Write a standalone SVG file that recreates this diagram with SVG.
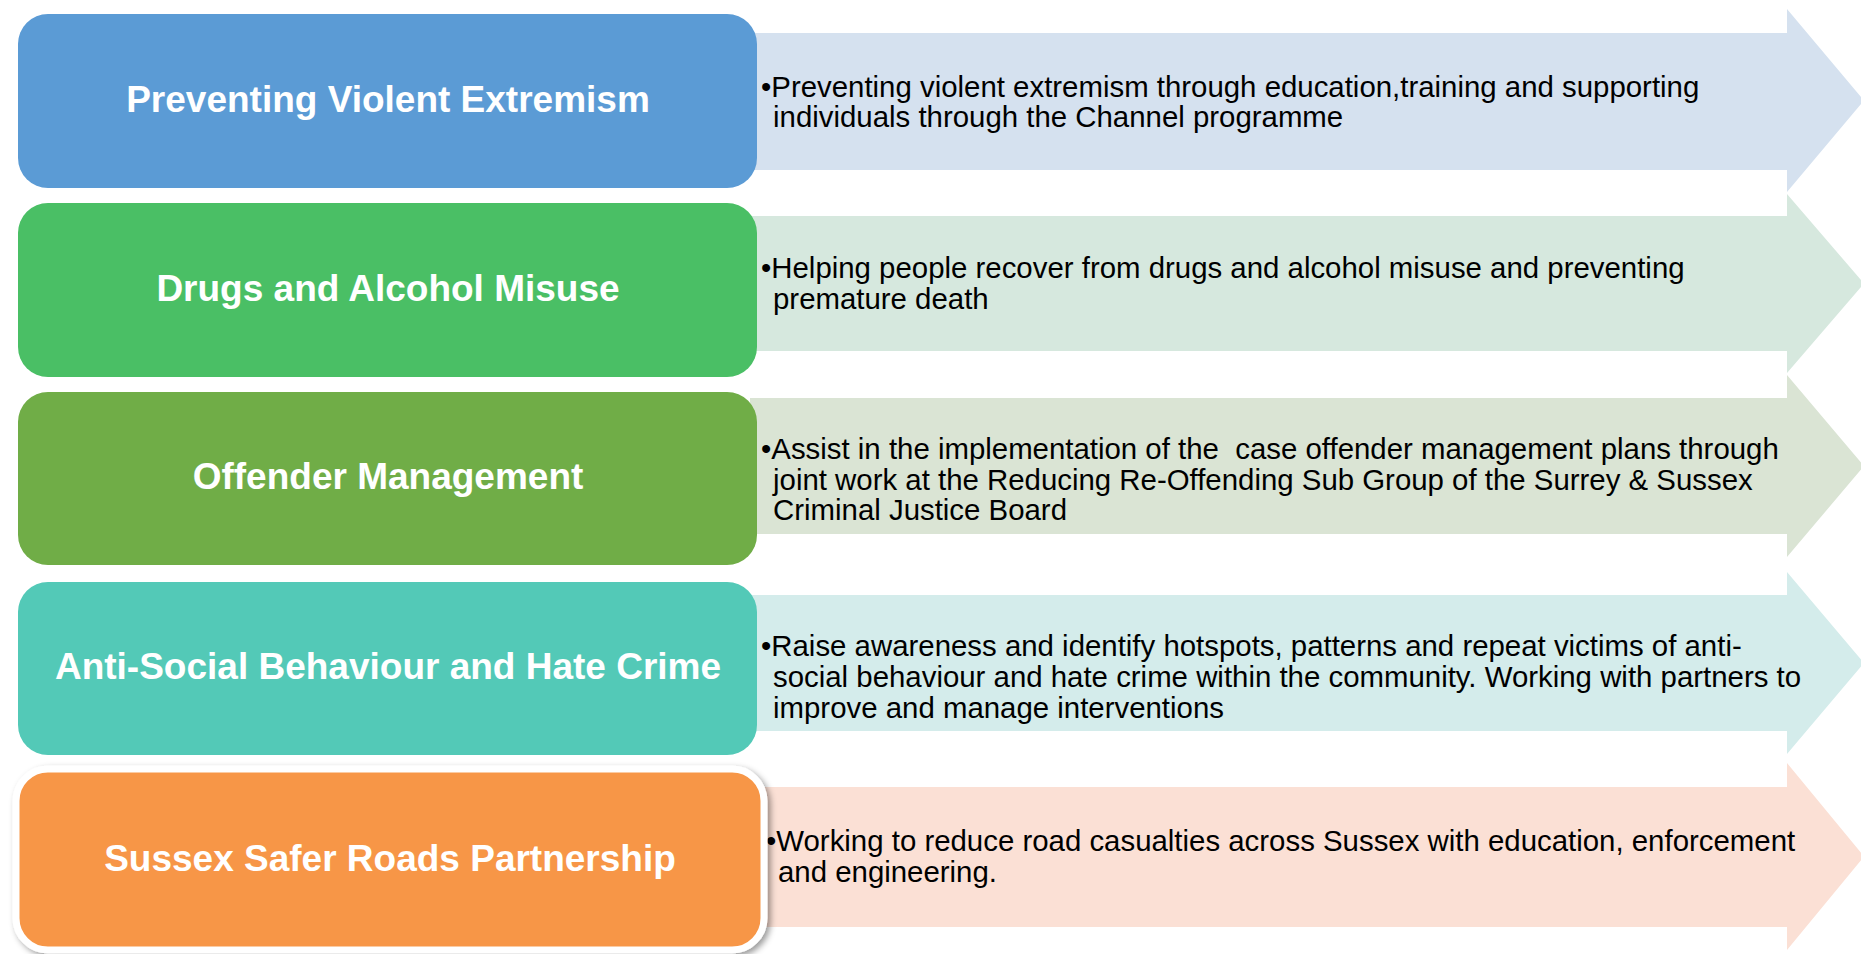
<svg xmlns="http://www.w3.org/2000/svg" width="1861" height="954" viewBox="0 0 1861 954">
  <defs>
    <style>
      .title { font-family: "Liberation Sans", Arial, sans-serif; font-weight: bold; font-size: 37px; fill: #ffffff; text-anchor: middle; }
      .body { font-family: "Liberation Sans", Arial, sans-serif; font-size: 29.4px; fill: #000000; white-space: pre; }
    </style>
    <filter id="shadow" x="-5%" y="-5%" width="115%" height="120%">
      <feDropShadow dx="3" dy="3" stdDeviation="3" flood-color="#000" flood-opacity="0.4"/>
    </filter>
  </defs>
  <rect x="0" y="0" width="1861" height="954" fill="#ffffff"/>

  <g id="connectors">
    <polygon id="arrow1" fill="#D5E1EF" points="750,33 1787,33 1787,9 1864,100.5 1787,192 1787,170 750,170"/>
    <polygon id="arrow2" fill="#D6E8DE" points="750,216 1787,216 1787,194 1864,283.5 1787,373 1787,351 750,351"/>
    <polygon id="arrow3" fill="#DAE4D4" points="750,398 1787,398 1787,375 1864,466 1787,557 1787,534 750,534"/>
    <polygon id="arrow4" fill="#D4ECEB" points="750,595 1787,595 1787,572 1864,663 1787,754 1787,731 750,731"/>
    <polygon id="arrow5" fill="#FBE0D5" points="750,787 1787,787 1787,763 1864,856.5 1787,950 1787,927 750,927"/>
  </g>

  <g id="text1">
    <text class="body" x="761" y="97">•Preventing violent extremism through education,training and supporting</text>
    <text class="body" x="773" y="127">individuals through the Channel programme</text>
  </g>
  <g id="text2">
    <text class="body" x="761" y="278">•Helping people recover from drugs and alcohol misuse and preventing</text>
    <text class="body" x="773" y="309">premature death</text>
  </g>
  <g id="text3">
    <text class="body" x="761" y="459" xml:space="preserve">•Assist in the implementation of the  case offender management plans through</text>
    <text class="body" x="773" y="489.5">joint work at the Reducing Re-Offending Sub Group of the Surrey &amp; Sussex</text>
    <text class="body" x="773" y="520">Criminal Justice Board</text>
  </g>
  <g id="text4">
    <text class="body" x="761" y="656">•Raise awareness and identify hotspots, patterns and repeat victims of anti-</text>
    <text class="body" x="773" y="687">social behaviour and hate crime within the community. Working with partners to</text>
    <text class="body" x="773" y="717.5">improve and manage interventions</text>
  </g>
  <g id="text5">
    <text class="body" x="766" y="851">•Working to reduce road casualties across Sussex with education, enforcement</text>
    <text class="body" x="778" y="881.5">and engineering.</text>
  </g>

  <g id="node1">
    <rect x="18" y="14" width="739" height="174" rx="30" ry="30" fill="#5B9BD5"/>
    <text class="title" x="388" y="112">Preventing Violent Extremism</text>
  </g>
  <g id="node2">
    <rect x="18" y="203" width="739" height="174" rx="30" ry="30" fill="#4ABF65"/>
    <text class="title" x="388" y="301">Drugs and Alcohol Misuse</text>
  </g>
  <g id="node3">
    <rect x="18" y="392" width="739" height="173" rx="30" ry="30" fill="#70AD47"/>
    <text class="title" x="388" y="489">Offender Management</text>
  </g>
  <g id="node4">
    <rect x="18" y="582" width="739" height="173" rx="30" ry="30" fill="#53C9B7"/>
    <text class="title" x="388" y="679">Anti-Social Behaviour and Hate Crime</text>
  </g>
  <g id="node5">
    <rect x="16" y="769" width="748" height="181" rx="32" ry="32" fill="#F79646" stroke="#ffffff" stroke-width="7" filter="url(#shadow)"/>
    <text class="title" x="390" y="871">Sussex Safer Roads Partnership</text>
  </g>
</svg>
